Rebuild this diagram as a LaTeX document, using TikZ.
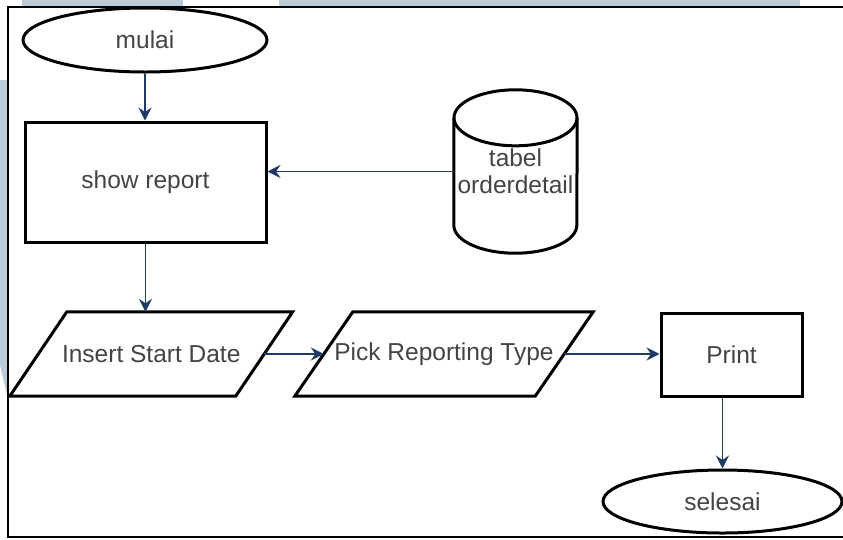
\documentclass[tikz,border=0pt]{standalone}
\usepackage{fontspec}
\setmainfont{Liberation Sans}
\usetikzlibrary{arrows.meta,shapes.geometric,calc}
\definecolor{edge}{HTML}{1F3B64}
\definecolor{ink}{HTML}{444444}
\definecolor{tint}{HTML}{BCCBD8}
\begin{document}
\begin{tikzpicture}[x=1pt,y=1pt,
  shapeline/.style={draw=black, line width=3pt},
  txt/.style={text=ink, font=\fontsize{24.5}{27}\selectfont, inner sep=0pt},
  flow/.style={draw=edge, line width=1.5pt, -{Stealth[length=13pt,width=13pt,inset=4.5pt]}},
]
\useasboundingbox (0,0) rectangle (843,-539);
\fill[white] (0,0) rectangle (843,-539);
% tinted page margin behind the frame
\fill[tint] (22,0) rectangle (183,-6.5);
\fill[tint] (279,0) rectangle (800,-6.5);
\fill[tint] (0,-80) -- (7,-80) -- (7,-395) -- (0,-365) -- cycle;
% frame
\draw[line width=1.3pt] (843,-7) -- (8,-7) -- (8,-537) -- (843,-537);

% terminals and process boxes
\node[txt, shapeline, ellipse, minimum width=244, minimum height=64] (start) at (145,-40) {mulai};
\node[txt, shapeline, rectangle, minimum width=241, minimum height=120] (show) at (145.5,-182) {show report};
\node[txt, shapeline, rectangle, minimum width=141, minimum height=83] (print) at (731.5,-354.5) {Print};
\node[txt, shapeline, ellipse, minimum width=239, minimum height=63] (sel) at (722.5,-501.5) {selesai};

% input parallelograms (node width = distance between slanted edge midpoints)
\node[txt, minimum width=225.5, minimum height=84] (ins) at (151.25,-354) {Insert Start Date};
\draw[shapeline] ($(ins.north west)+(28.5,0)$) -- ($(ins.north east)+(28.5,0)$)
  -- ($(ins.south east)+(-28.5,0)$) -- ($(ins.south west)+(-28.5,0)$) -- cycle;
\node[txt, minimum width=240, minimum height=84] (pick) at (444,-354) {Pick Reporting Type};
\draw[shapeline] ($(pick.north west)+(29,0)$) -- ($(pick.north east)+(29,0)$)
  -- ($(pick.south east)+(-29,0)$) -- ($(pick.south west)+(-29,0)$) -- cycle;

% database cylinder
\node[txt, align=center, minimum width=123, minimum height=163] (db) at (515.5,-171.5) {tabel\\orderdetail};
\draw[shapeline] ($(db.north west)+(0,-28)$) -- ($(db.south west)+(0,28)$)
  arc[start angle=180, end angle=360, x radius=61.5, y radius=28]
  -- ($(db.north east)+(0,-28)$);
\draw[shapeline] ($(db.north)+(0,-28)$) ellipse[x radius=61.5, y radius=28];

% connectors
\draw[flow] (start.south) -- (start.south |- show.north);
\draw[flow] (db.west) -- (db.west -| show.east);
\draw[flow] (show.south) -- (show.south |- ins.north);
\draw[flow] (ins.east) -- (pick.west);
\draw[flow] (pick.east) -- (pick.east -| print.west);
\draw[flow] (print.south -| sel.north) -- (sel.north);
\end{tikzpicture}
\end{document}
